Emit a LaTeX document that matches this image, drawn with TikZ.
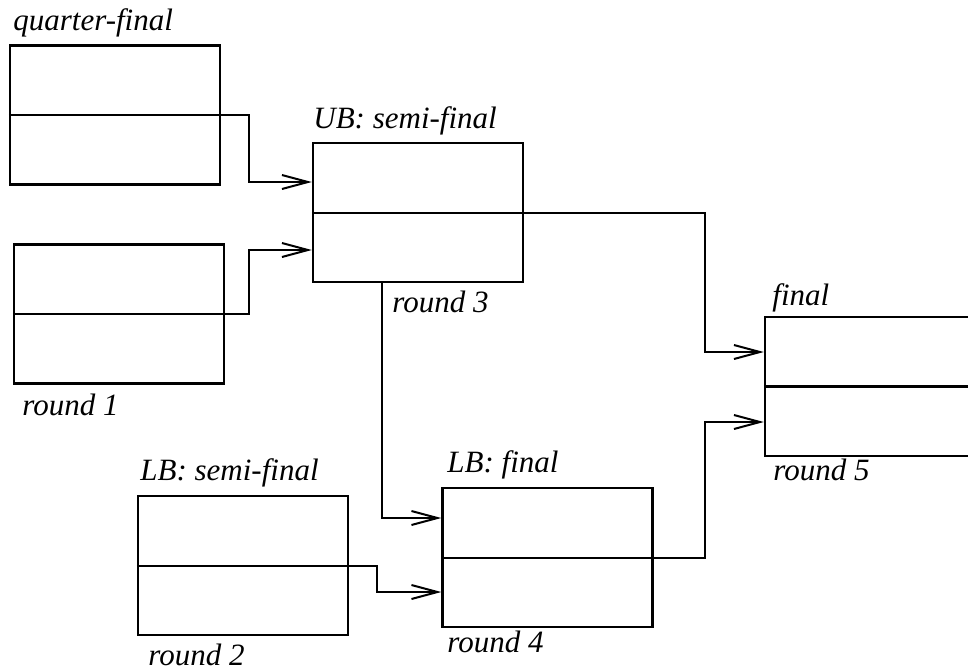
\documentclass[tikz,border=0pt]{standalone}
\usepackage{fontspec}
\setmainfont{Liberation Serif}
\usetikzlibrary{arrows.meta}

\tikzset{
  game/.style={draw, line width=1.2pt, rectangle, inner sep=0pt,
    minimum width=105pt, minimum height=69.5pt},
  lbl/.style={anchor=base west, inner sep=0pt, font=\fontsize{15.5}{18}\selectfont\itshape},
  conn/.style={line width=1pt, -{Straight Barb[length=13pt,width=7pt]}}
}

\begin{document}
\begin{tikzpicture}[x=0.5pt, y=-0.5pt]
          \useasboundingbox (0,0) rectangle (968,670);
          % Games
          \node[game] (qf) at (115,115) {};
          \node[game] (ra) at (119,314) {};
          \node[game] (ub) at (418,212.5) {};
          \node[game] (fin) at (870,386.5) {};
          \node[game] (lbs) at (243,565.5) {};
          \node[game] (lbf) at (547.5,557.5) {};
          % Labels
          \node[lbl] (tqf) at (13,30) {quarter-final};
          \node[lbl] (tra) at (22,415) {round 1};
          \node[lbl] (tub) at (313,128) {UB: semi-final};
          \node[lbl] (trc) at (392,312) {round 3};
          \node[lbl] (tfin) at (772,305) {final};
          \node[lbl] (tre) at (773,480) {round 5};
          \node[lbl] (tlbs) at (140,480) {LB: semi-final};
          \node[lbl] (trb) at (148,665) {round 2};
          \node[lbl] (tlbf) at (447,472) {LB: final};
          \node[lbl] (trd) at (447,652) {round 4};
          % Middle line of the final
          \draw[line width=1.1pt] (fin.west) -- (fin.east);
          % Winners
          \draw[conn] (qf.west) -- ++(240,0) |- ([yshift=15.25pt]ub.west);
          \draw[conn] (ra.west) -- ++(236,0) |- ([yshift=-18.75pt]ub.west);
          \draw[conn] (ub.west) -- ++(393,0) |- ([yshift=17.25pt]fin.west);
          \draw[conn] (lbs.west) -- ++(240,0) |- ([yshift=-17.25pt]lbf.west);
          \draw[conn] (lbf.west) -- ++(264,0) |- ([yshift=-17.75pt]fin.west);
          % Loser drops down
          \draw[conn] ([xshift=35pt]ub.south west) |- ([yshift=19.75pt]lbf.west);
        \end{tikzpicture}
\end{document}
